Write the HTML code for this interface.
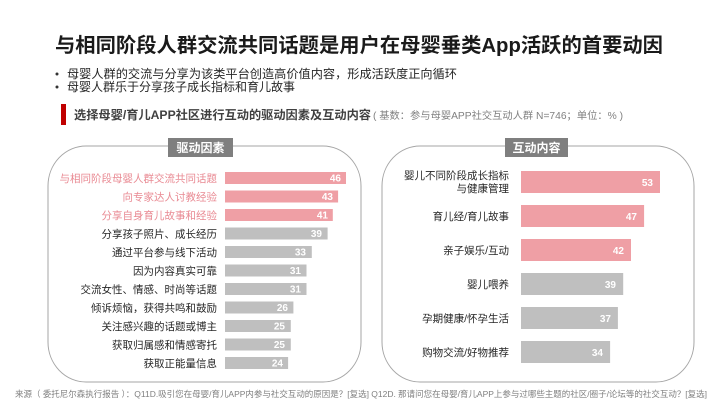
<!DOCTYPE html>
<html>
<head>
<meta charset="utf-8">
<style>
  html,body{margin:0;padding:0;background:#fff;}
  svg{display:block;}
  text{font-family:"Liberation Sans","Noto Sans CJK SC","WenQuanYi Zen Hei",sans-serif;}
</style>
</head>
<body>
<svg width="720" height="405" viewBox="0 0 720 405" xmlns="http://www.w3.org/2000/svg">
  <rect width="720" height="405" fill="#ffffff"/>

  <!-- Title -->
  <text x="55" y="52" font-size="20" font-weight="bold" fill="#1a1a1a" textLength="608" lengthAdjust="spacingAndGlyphs">与相同阶段人群交流共同话题是用户在母婴垂类App活跃的首要动因</text>

  <!-- Bullets -->
  <circle cx="57" cy="74" r="1.5" fill="#333"/>
  <text x="67" y="78" font-size="12" fill="#262626" textLength="390" lengthAdjust="spacingAndGlyphs">母婴人群的交流与分享为该类平台创造高价值内容，形成活跃度正向循环</text>
  <circle cx="57" cy="87" r="1.5" fill="#333"/>
  <text x="67" y="91" font-size="12" fill="#262626">母婴人群乐于分享孩子成长指标和育儿故事</text>

  <!-- Subtitle -->
  <rect x="61" y="104" width="5" height="21" fill="#c00000"/>
  <text x="74" y="119" font-size="12" font-weight="bold" fill="#404040" textLength="297" lengthAdjust="spacingAndGlyphs">选择母婴/育儿APP社区进行互动的驱动因素及互动内容</text>
  <text x="373" y="119" font-size="10" fill="#808080" textLength="250" lengthAdjust="spacingAndGlyphs">( 基数：参与母婴APP社交互动人群 N=746；单位：% )</text>

  <!-- Panels -->
  <rect x="48" y="146" width="313" height="236" rx="38" ry="40" fill="none" stroke="#a6a6a6" stroke-width="1"/>
  <rect x="382" y="146" width="312" height="236" rx="38" ry="40" fill="none" stroke="#a6a6a6" stroke-width="1"/>

  <!-- Panel headers -->
  <rect x="168" y="138" width="65" height="19" fill="#7f7f7f"/>
  <text x="200.5" y="152" font-size="12" font-weight="bold" fill="#ffffff" text-anchor="middle">驱动因素</text>
  <rect x="505" y="138" width="63" height="19" fill="#7f7f7f"/>
  <text x="536.5" y="152" font-size="12" font-weight="bold" fill="#ffffff" text-anchor="middle">互动内容</text>

  <!-- Left chart -->
  <g font-size="10.5">
    <!-- row 0 -->
    <text x="217" y="182" text-anchor="end" fill="#e98a93">与相同阶段母婴人群交流共同话题</text>
    <rect x="225" y="172" width="121" height="12" fill="#ef9fa5"/>
    <text x="341" y="181.5" text-anchor="end" font-size="10" font-weight="bold" fill="#fff">46</text>
    <!-- row 1 -->
    <text x="217" y="200.5" text-anchor="end" fill="#e98a93">向专家达人讨教经验</text>
    <rect x="225" y="190.5" width="113.1" height="12" fill="#ef9fa5"/>
    <text x="333" y="200" text-anchor="end" font-size="10" font-weight="bold" fill="#fff">43</text>
    <!-- row 2 -->
    <text x="217" y="219" text-anchor="end" fill="#e98a93">分享自身育儿故事和经验</text>
    <rect x="225" y="209" width="107.8" height="12" fill="#ef9fa5"/>
    <text x="328" y="218.5" text-anchor="end" font-size="10" font-weight="bold" fill="#fff">41</text>
    <!-- row 3 -->
    <text x="217" y="237.5" text-anchor="end" fill="#262626">分享孩子照片、成长经历</text>
    <rect x="225" y="227.5" width="102.6" height="12" fill="#bfbfbf"/>
    <text x="322" y="237" text-anchor="end" font-size="10" font-weight="bold" fill="#fff">39</text>
    <!-- row 4 -->
    <text x="217" y="256" text-anchor="end" fill="#262626">通过平台参与线下活动</text>
    <rect x="225" y="246" width="86.8" height="12" fill="#bfbfbf"/>
    <text x="306" y="255.5" text-anchor="end" font-size="10" font-weight="bold" fill="#fff">33</text>
    <!-- row 5 -->
    <text x="217" y="274.5" text-anchor="end" fill="#262626">因为内容真实可靠</text>
    <rect x="225" y="264.5" width="81.5" height="12" fill="#bfbfbf"/>
    <text x="301" y="274" text-anchor="end" font-size="10" font-weight="bold" fill="#fff">31</text>
    <!-- row 6 -->
    <text x="217" y="293" text-anchor="end" fill="#262626">交流女性、情感、时尚等话题</text>
    <rect x="225" y="283" width="81.5" height="12" fill="#bfbfbf"/>
    <text x="301" y="292.5" text-anchor="end" font-size="10" font-weight="bold" fill="#fff">31</text>
    <!-- row 7 -->
    <text x="217" y="311.5" text-anchor="end" fill="#262626">倾诉烦恼，获得共鸣和鼓励</text>
    <rect x="225" y="301.5" width="68.4" height="12" fill="#bfbfbf"/>
    <text x="288" y="311" text-anchor="end" font-size="10" font-weight="bold" fill="#fff">26</text>
    <!-- row 8 -->
    <text x="217" y="330" text-anchor="end" fill="#262626">关注感兴趣的话题或博主</text>
    <rect x="225" y="320" width="65.8" height="12" fill="#bfbfbf"/>
    <text x="285" y="329.5" text-anchor="end" font-size="10" font-weight="bold" fill="#fff">25</text>
    <!-- row 9 -->
    <text x="217" y="348.5" text-anchor="end" fill="#262626">获取归属感和情感寄托</text>
    <rect x="225" y="338.5" width="65.8" height="12" fill="#bfbfbf"/>
    <text x="285" y="348" text-anchor="end" font-size="10" font-weight="bold" fill="#fff">25</text>
    <!-- row 10 -->
    <text x="217" y="367" text-anchor="end" fill="#262626">获取正能量信息</text>
    <rect x="225" y="357" width="63.1" height="12" fill="#bfbfbf"/>
    <text x="283" y="366.5" text-anchor="end" font-size="10" font-weight="bold" fill="#fff">24</text>
  </g>

  <!-- Right chart -->
  <g font-size="10.5">
    <text x="509" y="179" text-anchor="end" fill="#262626">婴儿不同阶段成长指标</text>
    <text x="509" y="192" text-anchor="end" fill="#262626">与健康管理</text>
    <rect x="521" y="171" width="139" height="22" fill="#ef9fa5"/>
    <text x="653" y="186" text-anchor="end" font-size="10" font-weight="bold" fill="#fff">53</text>

    <text x="509" y="220" text-anchor="end" fill="#262626">育儿经/育儿故事</text>
    <rect x="521" y="205" width="123.1" height="22" fill="#ef9fa5"/>
    <text x="637" y="220" text-anchor="end" font-size="10" font-weight="bold" fill="#fff">47</text>

    <text x="509" y="254" text-anchor="end" fill="#262626">亲子娱乐/互动</text>
    <rect x="521" y="239" width="110" height="22" fill="#ef9fa5"/>
    <text x="624" y="254" text-anchor="end" font-size="10" font-weight="bold" fill="#fff">42</text>

    <text x="509" y="288" text-anchor="end" fill="#262626">婴儿喂养</text>
    <rect x="521" y="273" width="102.2" height="22" fill="#bfbfbf"/>
    <text x="616" y="288" text-anchor="end" font-size="10" font-weight="bold" fill="#fff">39</text>

    <text x="509" y="322" text-anchor="end" fill="#262626">孕期健康/怀孕生活</text>
    <rect x="521" y="307" width="96.9" height="22" fill="#bfbfbf"/>
    <text x="611" y="322" text-anchor="end" font-size="10" font-weight="bold" fill="#fff">37</text>

    <text x="509" y="356" text-anchor="end" fill="#262626">购物交流/好物推荐</text>
    <rect x="521" y="341" width="89.1" height="22" fill="#bfbfbf"/>
    <text x="603" y="356" text-anchor="end" font-size="10" font-weight="bold" fill="#fff">34</text>
  </g>

  <!-- Footer -->
  <text x="15" y="397" font-size="8.5" fill="#7f7f7f" textLength="692" lengthAdjust="spacingAndGlyphs">来源（ 委托尼尔森执行报告 ）：Q11D.吸引您在母婴/育儿APP内参与社交互动的原因是？[复选] Q12D. 那请问您在母婴/育儿APP上参与过哪些主题的社区/圈子/论坛等的社交互动？[复选]</text>
</svg>
</body>
</html>
